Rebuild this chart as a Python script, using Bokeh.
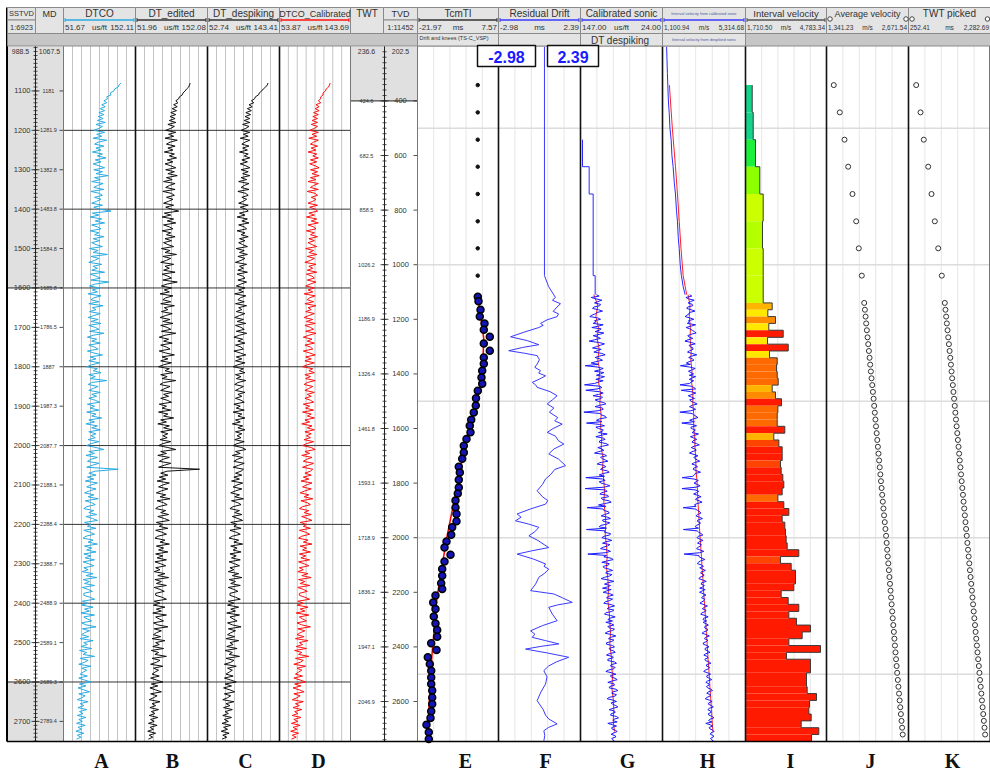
import numpy as np
from bokeh.plotting import figure
from bokeh.models import Range1d, LinearColorMapper, ColumnDataSource
from bokeh.transform import transform
from bokeh.core.properties import value
from bokeh.embed import file_html
from bokeh.resources import INLINE

# ------------------------------------------------------------------
# Left panel: sonic logs against SSTVD (m), one sample every 5 m
# ------------------------------------------------------------------
LOG_TOP, LOG_STEP = 1080.0, 5.0

dtco = [132, 129, 128, 123, 122, 117, 118, 112, 113, 108, 112, 105, 110, 103, 109, 101, 108, 100, 107, 99,
        110, 97, 106, 101, 94, 109, 98, 105, 93, 112, 100, 95, 108, 97, 104, 92, 106, 99, 111, 96,
        104, 93, 101, 109, 94, 106, 97, 114, 95, 103, 91, 107, 99, 94, 108, 90, 102, 106, 95, 104,
        98, 91, 106, 94, 102, 118, 92, 101, 89, 105, 96, 109, 91, 99, 104, 89, 101, 95, 108, 93,
        102, 91, 97, 106, 88, 100, 93, 113, 90, 101, 95, 87, 105, 93, 99, 91, 109, 89, 97, 103,
        90, 115, 96, 88, 102, 92, 99, 86, 104, 94, 90, 101, 87, 107, 92, 97, 88, 103, 94, 86,
        100, 90, 104, 87, 96, 101, 88, 108, 93, 85, 98, 91, 103, 87, 95, 100, 85, 94, 106, 89,
        97, 87, 102, 91, 84, 99, 93, 104, 87, 96, 89, 112, 91, 86, 100, 93, 87, 103, 91, 98,
        87, 96, 102, 85, 95, 89, 101, 84, 97, 91, 105, 87, 95, 83, 99, 91, 103, 87, 97, 90,
        96, 86, 101, 90, 84, 97, 108, 87, 95, 83, 99, 90, 85, 101, 92, 84, 128, 96, 87, 97,
        85, 94, 82, 99, 90, 84, 97, 88, 81, 94, 86, 100, 82, 91, 96, 84, 80, 94, 87, 98,
        83, 92, 99, 81, 90, 85, 97, 80, 89, 95, 83, 79, 93, 86, 99, 81, 91, 84, 97, 80,
        90, 82, 95, 79, 87, 94, 80, 86, 78, 93, 83, 98, 79, 88, 81, 95, 78, 86, 92, 80,
        80, 89, 95, 78, 86, 77, 93, 81, 88, 76, 95, 80, 85, 91, 77, 83, 97, 78, 88, 81,
        77, 87, 75, 93, 80, 85, 76, 91, 74, 84, 79, 95, 75, 86, 81, 73, 90, 77, 84, 79,
        75, 85, 73, 81, 90, 74, 83, 72, 80, 88, 73, 82, 77, 71, 86, 75, 80, 72, 84, 74,
        79, 71, 83, 73, 78, 70, 82, 72, 77, 69, 80, 71, 76, 70]

dt_edited = [128, 127, 126, 123, 121, 118, 117, 113, 112, 108, 111, 105, 110, 103, 109, 101, 108, 100, 107, 99,
             108, 97, 106, 101, 94, 108, 98, 105, 93, 110, 100, 95, 107, 97, 104, 92, 106, 99, 109, 96,
             104, 93, 101, 108, 94, 106, 97, 110, 95, 103, 91, 107, 99, 94, 107, 90, 102, 106, 95, 104,
             98, 91, 105, 94, 102, 112, 92, 101, 89, 105, 96, 108, 91, 99, 104, 89, 101, 95, 107, 93,
             102, 91, 97, 105, 88, 100, 93, 109, 90, 101, 95, 87, 105, 93, 99, 91, 107, 89, 97, 102,
             90, 110, 96, 88, 102, 92, 99, 86, 104, 94, 90, 101, 87, 106, 92, 97, 88, 103, 94, 86,
             100, 90, 104, 87, 96, 101, 88, 108, 93, 85, 98, 91, 103, 87, 95, 100, 85, 94, 106, 89,
             97, 87, 102, 91, 84, 99, 93, 104, 87, 96, 89, 108, 91, 86, 100, 93, 87, 103, 91, 98,
             87, 96, 102, 85, 95, 89, 101, 84, 97, 91, 105, 87, 95, 83, 99, 91, 103, 87, 97, 90,
             96, 86, 101, 90, 84, 97, 108, 87, 95, 83, 99, 90, 85, 101, 92, 84, 141, 96, 87, 97,
             85, 94, 82, 99, 90, 84, 97, 88, 81, 94, 86, 100, 82, 91, 96, 84, 80, 94, 87, 98,
             83, 92, 99, 81, 90, 85, 97, 80, 89, 95, 83, 79, 93, 86, 99, 81, 91, 84, 97, 80,
             90, 82, 95, 79, 87, 94, 80, 86, 78, 93, 83, 98, 79, 88, 81, 95, 78, 86, 92, 80,
             80, 89, 95, 78, 86, 77, 93, 81, 88, 76, 95, 80, 85, 91, 77, 83, 97, 78, 88, 81,
             77, 87, 75, 93, 80, 85, 76, 91, 74, 84, 79, 95, 75, 86, 81, 73, 90, 77, 84, 79,
             75, 85, 73, 81, 90, 74, 83, 72, 80, 88, 73, 82, 77, 71, 86, 75, 80, 72, 84, 74,
             79, 71, 83, 73, 78, 70, 82, 72, 77, 69, 80, 71, 76, 70]

dt_despiking = [129, 128, 126, 123, 121, 118, 117, 113, 112, 108, 111, 105, 109, 103, 108, 101, 107, 100, 106, 99,
                106, 97, 105, 101, 95, 106, 98, 104, 94, 106, 100, 96, 105, 97, 103, 93, 104, 99, 106, 96,
                103, 94, 101, 106, 95, 104, 97, 106, 95, 102, 92, 105, 99, 95, 105, 91, 101, 104, 96, 102,
                98, 92, 104, 94, 101, 104, 93, 100, 90, 103, 96, 105, 92, 99, 102, 90, 100, 95, 104, 93,
                100, 92, 97, 103, 89, 99, 93, 103, 91, 100, 95, 88, 102, 93, 98, 91, 103, 90, 97, 100,
                91, 102, 95, 89, 100, 92, 98, 87, 101, 94, 91, 99, 88, 102, 92, 96, 89, 100, 93, 87,
                98, 90, 101, 88, 95, 99, 89, 102, 93, 86, 97, 91, 100, 88, 95, 98, 86, 94, 101, 89,
                96, 88, 100, 91, 85, 98, 93, 100, 88, 95, 89, 101, 91, 87, 98, 93, 88, 100, 91, 96,
                88, 95, 99, 86, 94, 89, 99, 85, 96, 91, 100, 88, 94, 84, 97, 91, 100, 88, 96, 90,
                95, 87, 99, 90, 85, 96, 101, 88, 94, 84, 97, 90, 86, 99, 92, 85, 98, 95, 88, 96,
                86, 93, 83, 97, 90, 85, 96, 88, 82, 93, 87, 98, 83, 91, 95, 85, 81, 93, 87, 96,
                84, 91, 97, 82, 90, 86, 95, 81, 89, 94, 84, 80, 92, 86, 97, 82, 90, 85, 95, 81,
                89, 83, 94, 80, 87, 93, 81, 86, 79, 92, 84, 96, 80, 88, 82, 94, 79, 86, 91, 81,
                81, 88, 94, 79, 86, 78, 92, 82, 88, 77, 93, 81, 85, 90, 78, 84, 95, 79, 88, 82,
                78, 87, 76, 92, 81, 85, 77, 90, 75, 84, 80, 93, 76, 86, 82, 74, 89, 78, 84, 80,
                76, 85, 74, 82, 89, 75, 83, 73, 81, 87, 74, 82, 78, 72, 86, 76, 81, 73, 84, 75,
                79, 72, 83, 74, 79, 71, 82, 73, 78, 70, 80, 72, 77, 71]

dtco_calibrated = [118, 117, 116, 113, 112, 109, 109, 106, 106, 103, 106, 100, 104, 99, 104, 97, 103, 96, 102, 95,
                   102, 94, 102, 98, 92, 103, 95, 101, 91, 103, 97, 93, 102, 94, 100, 90, 101, 96, 103, 93,
                   101, 92, 99, 104, 93, 102, 95, 104, 93, 100, 90, 103, 97, 93, 103, 89, 99, 102, 94, 100,
                   96, 90, 102, 92, 99, 102, 91, 98, 88, 101, 94, 103, 90, 97, 100, 88, 98, 93, 102, 91,
                   98, 90, 95, 101, 87, 97, 91, 101, 89, 98, 93, 86, 100, 91, 96, 89, 101, 88, 95, 98,
                   89, 100, 93, 87, 98, 90, 96, 85, 99, 92, 89, 97, 86, 100, 90, 94, 87, 98, 91, 85,
                   96, 88, 99, 86, 93, 97, 87, 100, 91, 84, 95, 89, 98, 86, 93, 96, 84, 92, 99, 87,
                   94, 86, 98, 89, 83, 96, 91, 98, 86, 93, 87, 99, 89, 85, 96, 91, 86, 98, 89, 94,
                   86, 93, 97, 84, 92, 87, 97, 83, 94, 89, 98, 86, 92, 82, 95, 89, 98, 86, 94, 88,
                   93, 85, 97, 88, 83, 94, 99, 86, 92, 82, 95, 88, 84, 97, 90, 83, 96, 93, 86, 94,
                   84, 91, 81, 95, 88, 83, 94, 86, 80, 91, 85, 96, 81, 89, 93, 83, 79, 91, 85, 94,
                   82, 89, 95, 80, 88, 84, 93, 79, 87, 92, 82, 78, 90, 84, 95, 80, 88, 83, 93, 79,
                   87, 81, 92, 78, 85, 91, 79, 84, 77, 90, 82, 94, 78, 86, 80, 92, 77, 84, 89, 79,
                   79, 86, 92, 77, 84, 76, 90, 80, 86, 75, 91, 79, 83, 88, 76, 82, 93, 77, 86, 80,
                   76, 85, 74, 90, 79, 83, 75, 88, 73, 82, 78, 91, 74, 84, 80, 72, 87, 76, 82, 78,
                   74, 83, 72, 80, 87, 73, 81, 71, 79, 85, 72, 80, 76, 70, 84, 74, 79, 71, 82, 73,
                   77, 70, 81, 72, 77, 69, 80, 71, 76, 68, 78, 70, 75, 69]

sstvd_ticks = [1100, 1200, 1300, 1400, 1500, 1600, 1700, 1800, 1900,
               2000, 2100, 2200, 2300, 2400, 2500, 2600, 2700]
md_labels = ["1181", "1281.9", "1382.8", "1483.8", "1584.8", "1685.8",
             "1786.5", "1887", "1987.3", "2087.7", "2188.1", "2288.4",
             "2388.7", "2488.9", "2589.1", "2689.3", "2789.4"]

# ------------------------------------------------------------------
# Right panel: VSP calibration against TVD (m)
# ------------------------------------------------------------------
tvd_ticks = [400, 600, 800, 1000, 1200, 1400, 1600, 1800, 2000, 2200, 2400, 2600]
twt_labels = ["424.6", "682.5", "858.5", "1026.2", "1186.9", "1326.4",
              "1461.8", "1593.1", "1718.9", "1836.2", "1947.1", "2046.9"]

# check-shot levels (bar boundaries), m TVD
level_tvd = [342, 442, 542, 641, 741, 841, 940, 1040,
             1140, 1165, 1190, 1215, 1240, 1266, 1291, 1316, 1341, 1366,
             1391, 1416, 1441, 1466, 1491, 1517, 1542, 1567, 1592, 1617,
             1642, 1667, 1692, 1717, 1742, 1768, 1793, 1818, 1843, 1868,
             1893, 1918, 1943, 1968, 1993, 2019, 2044, 2069, 2094, 2119,
             2144, 2169, 2194, 2219, 2244, 2270, 2295, 2320, 2345, 2370,
             2395, 2420, 2445, 2470, 2495, 2521, 2546, 2571, 2596, 2621,
             2646, 2671, 2696, 2721, 2746]

interval_velocity = [1965, 2003, 2090, 2253, 2382, 2355, 2382, 2382,
                     2723, 2557, 2849, 2594, 3141, 2545, 3331, 2621, 2913, 2887,
                     2913, 2951, 2723, 2849, 3076, 2938, 2913, 2913, 3202, 2784,
                     2976, 3102, 3102, 3038, 3064, 3126, 3164, 3102, 2938, 3164,
                     3355, 3102, 3202, 3228, 3254, 3292, 3733, 3038, 3444, 3607,
                     3607, 3543, 3064, 3330, 3733, 3355, 3645, 4177, 3861, 3355,
                     4556, 3266, 4177, 4177, 4025, 4025, 4051, 4404, 4139, 4114,
                     4203, 3823, 4492, 4215]

average_velocity = [1459, 1557, 1633, 1693, 1763, 1823, 1865, 1914,
                    1953, 1964, 1975, 1985, 1996, 2007, 2018, 2029, 2040, 2050,
                    2061, 2072, 2083, 2094, 2105, 2115, 2125, 2135, 2145, 2155,
                    2165, 2175, 2185, 2195, 2205, 2215, 2225, 2235, 2245, 2255,
                    2265, 2275, 2286, 2297, 2308, 2317, 2326, 2335, 2344, 2353,
                    2362, 2371, 2380, 2389, 2398, 2407, 2416, 2425, 2434, 2443,
                    2452, 2461, 2470, 2479, 2488, 2498, 2508, 2518, 2528, 2538,
                    2548, 2558, 2568, 2578]

twt_picked = [443, 550, 631, 740, 822, 904, 988, 1077,
              1151, 1168, 1185, 1202, 1219, 1236, 1253, 1270, 1287, 1303,
              1318, 1334, 1350, 1365, 1381, 1397, 1412, 1428, 1444, 1460,
              1475, 1491, 1507, 1522, 1538, 1554, 1569, 1585, 1601, 1616,
              1632, 1648, 1663, 1679, 1695, 1710, 1726, 1742, 1757, 1773,
              1789, 1805, 1820, 1836, 1852, 1867, 1883, 1899, 1914, 1930,
              1946, 1961, 1977, 1993, 2009, 2024, 2040, 2056, 2071, 2087,
              2103, 2118, 2134, 2150]

# drift (TcmTI, ms): shallow check-shots and sonic-level drift points
drift_shallow_ms = [0.0, 0.0, 0.0, 0.0, 0.0, 0.0, 0.0, 0.0]
drift_tvd = [1117, 1134, 1165, 1190, 1215, 1238, 1264, 1289, 1315, 1340,
             1363, 1388, 1413, 1436, 1462, 1489, 1516, 1541, 1568, 1590,
             1614, 1638, 1663, 1688, 1711, 1740, 1761, 1788, 1816, 1838,
             1864, 1889, 1913, 1940, 1962, 1989, 2014, 2036, 2062, 2087,
             2115, 2139, 2167, 2188, 2212, 2237, 2261, 2289, 2314, 2338,
             2363, 2387, 2411, 2438, 2463, 2487, 2512, 2536, 2560, 2585,
             2609, 2636, 2660, 2685, 2713, 2737]
drift_ms = [0.02, 0.28, 1.01, 0.75, 2.47, 2.21, 4.40, 2.21, 4.40, 2.21,
            2.21, 1.63, 1.37, 1.63, 0.02, -0.64, -0.71, -1.44, -2.38, -2.90,
            -2.64, -4.10, -5.08, -5.08, -5.67, -6.91, -6.54, -6.91, -6.91, -7.27,
            -8.11, -8.11, -7.75, -7.75, -9.32, -9.68, -11.39, -12.12, -9.93, -12.12,
            -12.96, -12.96, -13.33, -12.96, -15.41, -16.24, -15.41, -16.03, -15.41, -14.79,
            -14.79, -16.97, -15.04, -18.21, -17.48, -16.97, -16.97, -16.97, -16.61, -16.61,
            -16.61, -16.97, -17.23, -18.69, -17.85, -17.85]
knee_tvd = [1117, 1270, 1440, 1490, 1650, 1820, 2000, 2220, 2430, 2640, 2737]
knee_ms = [0.0, 2.2, 1.6, -0.3, -4.4, -7.7, -11.3, -14.9, -16.7, -17.9, -18.5]

# residual drift (TVD m, ms)
residual_drift = [(202.5, 0.03), (1040, 0.03), (1080, 0.30), (1120, 0.75), (1130, 0.55),
                  (1143, 1.08), (1155, 0.85), (1171, 0.60), (1180, 0.95), (1190, 0.86),
                  (1202, 0.20), (1215, -0.23), (1222, -0.05), (1230, -0.34), (1247, -1.30),
                  (1264, -2.19), (1278, -1.10), (1293, -0.34), (1303, -1.40), (1315, -2.31),
                  (1324, -1.30), (1333, -0.45), (1348, -0.30), (1364, -0.45), (1376, -0.60),
                  (1388, -0.23), (1397, -0.35), (1407, 0.10), (1419, -0.30), (1431, -0.77),
                  (1440, -0.55), (1449, -0.45), (1465, 0.40), (1480, 0.86), (1495, 0.55),
                  (1510, 0.21), (1525, 0.65), (1540, 0.35), (1560, 0.90), (1572, 0.70),
                  (1584, 1.19), (1600, 0.60), (1614, 0.21), (1628, 0.75), (1645, 0.95),
                  (1657, 1.30), (1675, 0.65), (1693, 0.31), (1712, 0.95), (1736, 1.41),
                  (1750, 0.70), (1768, 0.45), (1785, 0.10), (1805, -0.10), (1828, -0.45),
                  (1850, -0.10), (1864, 0.25), (1877, 0.10), (1895, -0.90), (1913, -1.76),
                  (1925, -1.50), (1938, -1.87), (1950, -1.00), (1962, -0.34), (1978, -0.60),
                  (1993, -0.99), (2010, -0.40), (2025, 0.00), (2036, 0.31), (2048, -0.80),
                  (2060, -1.76), (2078, -0.70), (2096, 0.10), (2105, 0.00), (2115, 0.31),
                  (2130, 0.05), (2145, -0.34), (2170, -0.55), (2194, -0.88), (2206, 0.64),
                  (2220, 1.20), (2237, 1.85), (2246, 0.90), (2255, 0.31), (2280, 0.55),
                  (2304, 0.86), (2322, -0.10), (2341, -0.88), (2353, -0.60), (2365, -0.77),
                  (2377, 0.10), (2389, 0.97), (2398, -0.20), (2408, -1.21), (2422, 0.20),
                  (2438, 1.62), (2455, 0.80), (2470, 0.30), (2487, -0.01), (2510, 0.20),
                  (2536, 0.10), (2565, -0.20), (2597, -0.45), (2630, -0.05), (2650, 0.10),
                  (2664, 0.31), (2682, 0.86), (2695, 0.30), (2707, -0.01), (2725, 0.05),
                  (2744, -0.01)]

# calibrated sonic (us/ft): blocky shallow part from check-shots, then log every 5 m
sonic_block_tvd = [542, 641, 641, 741, 741, 1040, 1040, 1110]
sonic_block_dt = [144, 144, 134, 134, 128, 128, 125, 125]
SONIC_TOP, SONIC_STEP = 1110.0, 5.0
cal_sonic = [123, 119, 131, 124, 115, 121, 126, 117, 118, 127, 129, 120, 114, 122, 125, 130, 133, 121, 117, 126,
             124, 128, 113, 120, 130, 116, 119, 125, 112, 118, 128, 121, 117, 126, 134, 119, 111, 117, 123, 129,
             116, 122, 127, 115, 110, 119, 125, 118, 114, 124, 131, 120, 140, 121, 113, 118, 126, 112, 117, 123,
             111, 117, 124, 113, 120, 126, 141, 118, 115, 122, 139, 119, 113, 120, 128, 114, 116, 125, 121, 112,
             109, 118, 125, 114, 113, 121, 142, 117, 116, 110, 108, 119, 123, 115, 138, 118, 111, 124, 120, 113,
             114, 120, 107, 116, 124, 113, 110, 118, 119, 109, 105, 114, 121, 115, 112, 120, 126, 111, 108, 117,
             115, 110, 106, 118, 122, 112, 109, 115, 117, 107, 104, 113, 119, 111, 139, 114, 110, 119, 116, 108,
             103, 112, 140, 110, 107, 115, 118, 106, 105, 116, 114, 104, 101, 111, 120, 109, 137, 113, 112, 105,
             104, 111, 116, 106, 102, 114, 113, 103, 107, 117, 119, 108, 138, 110, 111, 102, 103, 112, 115, 106,
             100, 109, 114, 103, 106, 113, 117, 107, 102, 110, 136, 108, 112, 101, 98, 107, 115, 104, 105, 113,
             112, 104, 99, 108, 109, 100, 103, 111, 116, 105, 97, 106, 111, 102, 106, 114, 101, 108, 113, 103,
             98, 105, 108, 99, 103, 110, 112, 101, 96, 104, 107, 97, 100, 109, 111, 102, 95, 103, 106, 99,
             109, 101, 97, 106, 104, 96, 99, 107, 110, 100, 94, 102, 105, 97, 100, 108, 108, 99, 96, 104,
             103, 97, 95, 104, 108, 99, 98, 106, 106, 96, 93, 101, 102, 95, 97, 105, 109, 100, 94, 102,
             101, 95, 92, 100, 106, 97, 96, 103, 104, 94, 91, 99, 100, 93, 95, 104, 107, 98, 93, 101,
             99, 94, 91, 98, 104, 96, 95, 101, 102, 93, 90, 97, 98, 92, 106, 99, 93, 100, 100, 95,
             92, 97, 101, 95, 94, 100, 99, 96]
DESPIKE_TOP, DESPIKE_STEP = 1110.0, 40.0
dt_despiked_vsp = [127, 121, 124, 120, 122, 119, 121, 118, 120, 117,
                   118, 116, 117, 115, 116, 113, 114, 112, 111, 112,
                   110, 109, 110, 108, 107, 108, 106, 105, 106, 104,
                   103, 102, 103, 101, 100, 99, 100, 98, 97, 98, 96]

# interval velocity from calibrated sonic (m/s)
vel_top_tvd = [202.5, 300, 342, 400, 442, 500, 542, 600, 641, 700,
               741, 800, 841, 900, 940, 1000, 1040, 1080, 1110]
vel_top = [1310, 1350, 1370, 1400, 1440, 1480, 1540, 1580, 1640, 1700,
           1760, 1810, 1860, 1900, 1950, 2000, 2060, 2150, 2250]
sonic_velocity = [2480, 2590, 2290, 2420, 2710, 2530, 2400, 2610, 2640, 2380, 2330, 2560, 2750, 2470, 2450, 2340, 2250, 2500, 2690, 2420,
                  2470, 2360, 2780, 2550, 2300, 2490, 2610, 2720, 2810, 2540, 2380, 2460, 2640, 2400, 2240, 2580, 2760, 2450, 2500, 2650,
                  2650, 2480, 2370, 2590, 2840, 2560, 2430, 2620, 2700, 2450, 2310, 2520, 2010, 2490, 2760, 2610, 2420, 2550, 2680, 2460,
                  2780, 2600, 2460, 2680, 2560, 2470, 1990, 2560, 2700, 2780, 2050, 2540, 2790, 2620, 2410, 2570, 2730, 2480, 2550, 2700,
                  2860, 2620, 2470, 2660, 2780, 2540, 1980, 2600, 2690, 2800, 2900, 2650, 2480, 2720, 2080, 2610, 2830, 2540, 2560, 2760,
                  2710, 2600, 2930, 2740, 2520, 2690, 2840, 2650, 2600, 2820, 2970, 2700, 2560, 2760, 2810, 2600, 2470, 2700, 2900, 2690,
                  2740, 2860, 2990, 2720, 2590, 2790, 2880, 2680, 2660, 2850, 3030, 2760, 2720, 2640, 2100, 2700, 2920, 2810, 2700, 2880,
                  3010, 2800, 2090, 2760, 2940, 2830, 2680, 2900, 3060, 2840, 2780, 2970, 3110, 2850, 2720, 2810, 2150, 2770, 2880, 3000,
                  3050, 2880, 2800, 2990, 3130, 2900, 2870, 3020, 2990, 2820, 2760, 2930, 2160, 2860, 2940, 3060, 3150, 2910, 2850, 3000,
                  3160, 2960, 2880, 3070, 3040, 2910, 2830, 3010, 3200, 2990, 2200, 2950, 2960, 3110, 3250, 3030, 2920, 2870, 3090, 3180,
                  2990, 3130, 3280, 3070, 3040, 3200, 3190, 3000, 2950, 3150, 3320, 3090, 3060, 3230, 3150, 2990, 3270, 3110, 2980, 3170,
                  3310, 3150, 3080, 3250, 3220, 3100, 3000, 3200, 3380, 3230, 3120, 3300, 3290, 3110, 3040, 3260, 3420, 3190, 3160, 3340,
                  3160, 3310, 3430, 3250, 3240, 3390, 3380, 3200, 3110, 3330, 3480, 3280, 3230, 3400, 3350, 3180, 3170, 3360, 3460, 3270,
                  3260, 3420, 3510, 3300, 3200, 3380, 3410, 3250, 3280, 3470, 3560, 3340, 3330, 3500, 3440, 3280, 3190, 3400, 3540, 3360,
                  3340, 3490, 3600, 3380, 3300, 3460, 3470, 3330, 3390, 3570, 3640, 3420, 3350, 3540, 3520, 3360, 3270, 3480, 3620, 3450,
                  3430, 3590, 3680, 3470, 3400, 3550, 3560, 3420, 3460, 3640, 3710, 3500, 3440, 3610, 3300, 3520, 3650, 3470, 3500, 3660,
                  3720, 3560, 3530, 3690, 3680, 3540, 3590, 3700]
vel_smooth_tvd = [342, 500, 641, 741, 841, 940, 1040, 1110]
vel_smooth = [1450, 1600, 1760, 1860, 1950, 2040, 2150, 2330]
vel_despiked = [2400, 2500, 2460, 2520, 2500, 2560, 2540, 2600, 2580, 2640,
                2640, 2690, 2680, 2730, 2750, 2790, 2800, 2850, 2880, 2900,
                2940, 2970, 3000, 3040, 3080, 3110, 3150, 3180, 3220, 3260,
                3300, 3330, 3370, 3400, 3440, 3480, 3510, 3550, 3590, 3620, 3660]

# ------------------------------------------------------------------
# Page layout (pixels)
# ------------------------------------------------------------------
W, H = 990, 774
HDR_TOP, ROW1, ROW2, DATA_TOP, DATA_BOT = 7, 19.5, 33, 45.5, 741
FONT = value("Liberation Sans")

p = figure(width=W, height=H, x_range=Range1d(0, W), y_range=Range1d(H, 0),
           output_backend="svg", toolbar_location=None, min_border=0,
           x_axis_location=None, y_axis_location=None,
           outline_line_color=None, background_fill_color="white",
           border_fill_color="white")
p.xgrid.visible = False
p.ygrid.visible = False

LEFT_DEPTH = (988.5, 2751.0)
RIGHT_DEPTH = (202.5, 2746.5)
YT = (46.5, DATA_BOT)


def sub(xsrc, xtgt, ysrc):
    return p.subplot(x_source=Range1d(*xsrc), y_source=Range1d(*ysrc),
                     x_target=Range1d(*xtgt), y_target=Range1d(*YT))


left_frame = sub((0, W), (0, W), LEFT_DEPTH)
right_frame = sub((0, W), (0, W), RIGHT_DEPTH)


def txt(x, y, t, size, align="center", color="#333333", style="normal", font=FONT,
        baseline="middle"):
    p.text(x=[x], y=[y], text=[t], text_font=font, text_font_size=size,
           text_align=align, text_baseline=baseline, text_color=color,
           text_font_style=style)


# gray shading of the depth columns
left_frame.quad(left=[7, 7], right=[63, 63], top=[988.5, 2600], bottom=[1600, 2751],
                fill_color="#e0e0e0", line_color=None)
right_frame.quad(left=[350], right=[417], top=[202.5], bottom=[400],
                 fill_color="#e0e0e0", line_color=None)

# vertical grids inside the tracks
for x0, x1 in [(63, 135), (135, 207), (207, 279), (279, 350)]:
    xs = list(np.linspace(x0, x1, 9)[1:-1])
    p.segment(x0=xs, y0=[DATA_TOP] * len(xs), x1=xs, y1=[DATA_BOT] * len(xs),
              line_color="#c4c4c4", line_width=1)
for x0, x1 in [(417, 498), (498, 580), (580, 662), (662, 745), (745, 826),
               (826, 908), (908, 990)]:
    xs = list(np.linspace(x0, x1, 6)[1:-1])
    p.segment(x0=xs, y0=[DATA_TOP] * len(xs), x1=xs, y1=[DATA_BOT] * len(xs),
              line_color="#e6e6e6", line_width=1)

# depth grid lines
d200 = [1200, 1400, 1600, 1800, 2000, 2200, 2400, 2600]
left_frame.segment(x0=[63] * len(d200), y0=d200, x1=[350] * len(d200), y1=d200,
                   line_color="#333333", line_width=1)
left_frame.segment(x0=[7, 7], y0=[1600, 2600], x1=[63, 63], y1=[1600, 2600],
                   line_color="#222222", line_width=1)
d500 = [500, 1000, 1500, 2000, 2500]
right_frame.segment(x0=[417] * len(d500), y0=d500, x1=[990] * len(d500), y1=d500,
                    line_color="#dcdcdc", line_width=1.5)
right_frame.segment(x0=[350], y0=[400], x1=[417], y1=[400], line_color="#222222",
                    line_width=1)

# depth rulers
minor_l = list(range(990, 2751, 10))
left_frame.segment(x0=[33] * len(minor_l), y0=minor_l, x1=[37] * len(minor_l),
                   y1=minor_l, line_color="#222222", line_width=0.8)
left_frame.segment(x0=[31] * len(sstvd_ticks), y0=sstvd_ticks,
                   x1=[39] * len(sstvd_ticks), y1=sstvd_ticks,
                   line_color="#222222", line_width=0.8)
left_frame.segment(x0=[59] * len(sstvd_ticks), y0=sstvd_ticks,
                   x1=[63] * len(sstvd_ticks), y1=sstvd_ticks,
                   line_color="#222222", line_width=0.8)
left_frame.text(x=[30] * len(sstvd_ticks), y=sstvd_ticks,
                text=[str(t) for t in sstvd_ticks], text_font=FONT,
                text_font_size="7.5px", text_align="right", text_baseline="middle",
                text_color="#333333")
left_frame.text(x=[48] * len(md_labels), y=sstvd_ticks, text=md_labels,
                text_font=FONT, text_font_size="5.5px", text_align="center",
                text_baseline="middle", text_color="#333333")
minor_r = list(range(220, 2741, 20))
right_frame.segment(x0=[382] * len(minor_r), y0=minor_r, x1=[386] * len(minor_r),
                    y1=minor_r, line_color="#222222", line_width=0.8)
right_frame.segment(x0=[380] * len(tvd_ticks), y0=tvd_ticks,
                    x1=[388] * len(tvd_ticks), y1=tvd_ticks,
                    line_color="#222222", line_width=0.8)
right_frame.segment(x0=[413] * len(tvd_ticks), y0=tvd_ticks,
                    x1=[417] * len(tvd_ticks), y1=tvd_ticks,
                    line_color="#222222", line_width=0.8)
right_frame.text(x=[366] * len(tvd_ticks), y=tvd_ticks, text=twt_labels,
                 text_font=FONT, text_font_size="5.5px", text_align="center",
                 text_baseline="middle", text_color="#333333")
right_frame.text(x=[400] * len(tvd_ticks), y=tvd_ticks,
                 text=[str(t) for t in tvd_ticks], text_font=FONT,
                 text_font_size="7.5px", text_align="center",
                 text_baseline="middle", text_color="#333333")
p.segment(x0=[35, 384], y0=[DATA_TOP, DATA_TOP], x1=[35, 384],
          y1=[DATA_BOT, DATA_BOT], line_color="#222222", line_width=1)
txt(20, 50.5, "988.5", "7px")
txt(49, 50.5, "1067.5", "7px")
txt(366, 50.5, "236.6", "7px")
txt(400, 50.5, "202.5", "7px")

# ------------------------------------------------------------------
# Log curves
# ------------------------------------------------------------------
sstvd = LOG_TOP + LOG_STEP * np.arange(len(dtco))
trkA = sub((51.67, 152.11), (63, 135), LEFT_DEPTH)
trkB = sub((51.96, 152.08), (135, 207), LEFT_DEPTH)
trkC = sub((52.74, 143.41), (207, 279), LEFT_DEPTH)
trkD = sub((53.87, 143.69), (279, 350), LEFT_DEPTH)
trkA.line(x=dtco, y=sstvd, line_color="#29abe2", line_width=1)
trkB.line(x=dt_edited, y=sstvd, line_color="#111111", line_width=1)
trkC.line(x=dt_despiking, y=sstvd, line_color="#111111", line_width=1)
trkD.line(x=dtco_calibrated, y=sstvd, line_color="#ff1010", line_width=1)

vsp_tvd = level_tvd[:-1]
trkE = sub((-21.97, 7.57), (417, 498), RIGHT_DEPTH)
trkE.line(x=knee_ms, y=knee_tvd, line_color="#ff0000", line_width=1.5)
trkE.scatter(x=drift_shallow_ms, y=vsp_tvd[:8], size=3.5, marker="circle",
             fill_color="#111111", line_color="#111111")
trkE.scatter(x=drift_ms, y=drift_tvd, size=7, marker="circle",
             fill_color="#1414b4", line_color="#000000", line_width=1.5)

trkF = sub((-2.98, 2.39), (498, 580), RIGHT_DEPTH)
trkF.line(x=[r[1] for r in residual_drift], y=[r[0] for r in residual_drift],
          line_color="#3a3aff", line_width=1)

son_tvd = SONIC_TOP + SONIC_STEP * np.arange(len(cal_sonic))
desp_tvd = DESPIKE_TOP + DESPIKE_STEP * np.arange(len(dt_despiked_vsp))
trkG = sub((147.0, 24.0), (580, 662), RIGHT_DEPTH)
trkG.line(x=sonic_block_dt, y=sonic_block_tvd, line_color="#2a2aff", line_width=1)
trkG.line(x=dt_despiked_vsp, y=desp_tvd, line_color="#ff2020", line_width=1)
trkG.line(x=cal_sonic, y=son_tvd, line_color="#1a1aff", line_width=1)

trkH = sub((1100.94, 5314.68), (662, 745), RIGHT_DEPTH)
trkH.line(x=vel_smooth, y=vel_smooth_tvd, line_color="#ff2020", line_width=1)
trkH.line(x=vel_despiked, y=desp_tvd, line_color="#ff2020", line_width=1)
trkH.line(x=vel_top, y=vel_top_tvd, line_color="#2a2aff", line_width=1)
trkH.line(x=sonic_velocity, y=son_tvd, line_color="#1a1aff", line_width=1)

# interval velocity bars coloured by value
palette = ["#14d48c", "#1cf03c", "#55ff00", "#8cff00", "#b4ff00", "#ccff00",
           "#e8ff00", "#ffe800", "#ffd000", "#ffb400", "#ff8c00", "#ff6a00",
           "#ff4400"]
mapper = LinearColorMapper(palette=palette, low=1950, high=3050,
                           high_color="#ff1a00", low_color="#14d48c")
bars = ColumnDataSource(dict(top=level_tvd[:-1], bottom=level_tvd[1:],
                             vel=interval_velocity))
trkI = sub((1710.5, 4783.34), (745, 826), RIGHT_DEPTH)
trkI.quad(left=1710.5, right="vel", top="top", bottom="bottom", source=bars,
          fill_color=transform("vel", mapper), line_color=None)
step_x, step_y = [], []
for v, t, b in zip(interval_velocity, level_tvd[:-1], level_tvd[1:]):
    step_x += [v, v]
    step_y += [t, b]
trkI.line(x=step_x, y=step_y, line_color="#3a3a3a", line_width=1)

trkJ = sub((1341.23, 2671.54), (826, 908), RIGHT_DEPTH)
trkJ.scatter(x=average_velocity, y=vsp_tvd, size=5, marker="circle",
             fill_color="white", line_color="#333333", line_width=1)
trkK = sub((252.41, 2282.69), (908, 990), RIGHT_DEPTH)
trkK.scatter(x=twt_picked, y=vsp_tvd, size=5, marker="circle",
             fill_color="white", line_color="#333333", line_width=1)

# track borders
p.segment(x0=[135, 207, 279, 498, 580, 662, 745, 826, 908],
          y0=[DATA_TOP] * 9, x1=[135, 207, 279, 498, 580, 662, 745, 826, 908],
          y1=[DATA_BOT] * 9, line_color="#111111", line_width=1.6)
p.segment(x0=[63, 350, 417, 989], y0=[DATA_TOP] * 4, x1=[63, 350, 417, 989],
          y1=[DATA_BOT] * 4, line_color="#777777", line_width=1)
p.segment(x0=[6.5], y0=[HDR_TOP], x1=[6.5], y1=[DATA_BOT],
          line_color="#000000", line_width=2)
p.segment(x0=[6.5], y0=[DATA_BOT], x1=[990], y1=[DATA_BOT],
          line_color="#000000", line_width=1.5)

# ------------------------------------------------------------------
# Header
# ------------------------------------------------------------------
p.quad(left=[7], right=[990], top=[ROW2], bottom=[DATA_TOP], fill_color="#c6c6c6",
       line_color="#8a8a8a", line_width=1)
cells = [(7, 35, HDR_TOP, ROW1), (7, 35, ROW1, ROW2), (35, 63, HDR_TOP, ROW2),
         (63, 135, HDR_TOP, ROW2), (135, 207, HDR_TOP, ROW2), (207, 279, HDR_TOP, ROW2),
         (279, 350, HDR_TOP, ROW2), (350, 383, HDR_TOP, ROW2), (383, 417, HDR_TOP, ROW1),
         (383, 417, ROW1, ROW2), (417, 498, HDR_TOP, ROW2), (498, 580, HDR_TOP, ROW2),
         (580, 662, HDR_TOP, ROW2), (662, 745, HDR_TOP, ROW2), (745, 826, HDR_TOP, ROW2),
         (826, 908, HDR_TOP, ROW2), (908, 990, HDR_TOP, ROW2),
         (417, 498, ROW2, DATA_TOP), (498, 580, ROW2, DATA_TOP),
         (580, 662, ROW2, DATA_TOP), (662, 745, ROW2, DATA_TOP)]
p.quad(left=[c[0] for c in cells], right=[c[1] for c in cells],
       top=[c[2] for c in cells], bottom=[c[3] for c in cells],
       fill_color="#e4e4e4", line_color="#8a8a8a", line_width=1)

titles = [(21, "SSTVD", "7.5px"), (49, "MD", "9px"), (99, "DTCO", "10px"),
          (171, "DT_edited", "10px"), (243, "DT_despiking", "10px"),
          (314.5, "DTCO_Calibrated", "9px"), (366.5, "TWT", "10px"),
          (400, "TVD", "9px"), (457.5, "TcmTI", "10px"),
          (539, "Residual Drift", "10px"), (621, "Calibrated sonic", "10px"),
          (785.5, "Interval velocity", "9.5px"), (867, "Average velocity", "9px"),
          (949, "TWT picked", "10px")]
for x, t, s in titles:
    txt(x, 13, t, s)
txt(703.5, 13, "Interval velocity from calibrated sonic", "4px", color="#4a5aa0")
txt(21, 26.5, "1:6923", "7.5px")
txt(400, 26.5, "1:11452", "7.5px")

legend = [(63, 135, "#29abe2"), (135, 207, "#333333"), (207, 279, "#333333"),
          (279, 350, "#ff1010"), (417, 498, "#333333"), (498, 580, "#3a3aff"),
          (580, 662, "#3a3aff"), (662, 745, "#3a3aff"), (745, 826, "#555555")]
for x0, x1, c in legend:
    p.segment(x0=[x0 + 1.5], y0=[ROW1], x1=[x1 - 1.5], y1=[ROW1], line_color=c,
              line_width=1.5)
    p.segment(x0=[x0 + 1.5, x1 - 1.5], y0=[ROW1 - 2, ROW1 - 2],
              x1=[x0 + 1.5, x1 - 1.5], y1=[ROW1 + 2, ROW1 + 2], line_color=c,
              line_width=1)
p.scatter(x=[829.5, 905.5, 911.5, 987], y=[18.5] * 4, size=4.5, marker="circle",
          fill_color="white", line_color="#444444", line_width=1)

scales = [(63, 135, "51.67", "us/ft", "152.11"), (135, 207, "51.96", "us/ft", "152.08"),
          (207, 279, "52.74", "us/ft", "143.41"), (279, 350, "53.87", "us/ft", "143.69"),
          (417, 498, "-21.97", "ms", "7.57"), (498, 580, "-2.98", "ms", "2.39"),
          (580, 662, "147.00", "us/ft", "24.00"), (662, 745, "1,100.94", "m/s", "5,314.68"),
          (745, 826, "1,710.50", "m/s", "4,783.34"), (826, 908, "1,341.23", "m/s", "2,671.54"),
          (908, 990, "252.41", "ms", "2,282.69")]
for x0, x1, lo, unit, hi in scales:
    small = len(lo) + len(hi) > 12
    fs = "6.5px" if small else "8px"
    txt(x0 + 1.5, 26.5, lo, fs, align="left")
    txt(x1 - 1.5, 26.5, hi, fs, align="right")
    txt((x0 + x1) / 2, 26.5, unit, fs)

txt(419, 37, "Drift and knees (TS-C_VSP)", "5.5px", align="left")
txt(621, 40, "DT  despiking", "10px")
txt(703.5, 39, "Interval velocity from despiked sonic", "4px", color="#4a5aa0")

# residual drift extremes
p.quad(left=[477, 547], right=[535, 598], top=[45, 45], bottom=[66, 66],
       fill_color="white", line_color="#111111", line_width=1.5)
txt(506, 56, "-2.98", "16px", color="#1a1aff", style="bold")
txt(572.5, 56, "2.39", "16px", color="#1a1aff", style="bold")

# track letters
letters = [(101, "A"), (172, "B"), (245, "C"), (318, "D"), (465, "E"), (545, "F"),
           (627, "G"), (707, "H"), (790, "I"), (870, "J"), (952, "K")]
for x, t in letters:
    txt(x, 760, t, "20px", color="#111111", style="bold",
        font=value("Liberation Serif"))

open("out.html", "w").write(file_html(p, INLINE, title="Sonic calibration"))
